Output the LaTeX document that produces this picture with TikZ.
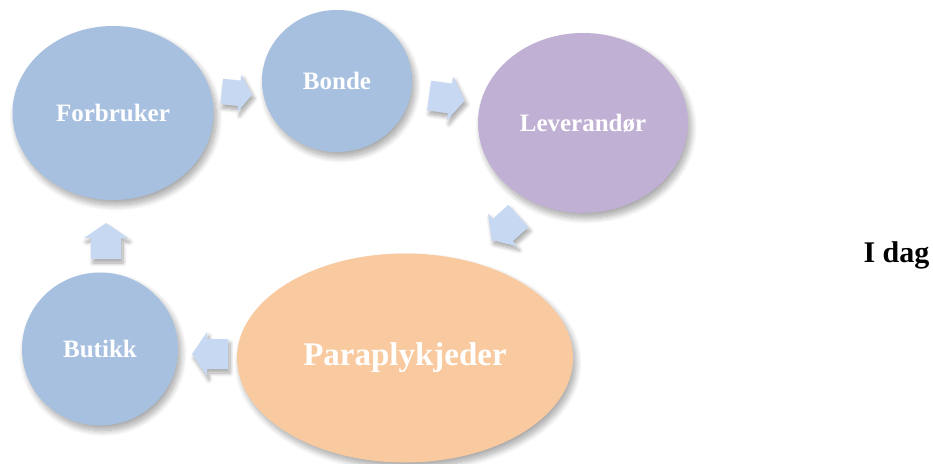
\documentclass[tikz,border=0pt]{standalone}
\usepackage{fontspec}
\setmainfont{Liberation Serif}
\usetikzlibrary{shapes.geometric,shadows.blur}
\definecolor{cycblue}{HTML}{A7C0DF}
\definecolor{cycpurple}{HTML}{C0B0D3}
\definecolor{cycorange}{HTML}{F9CAA0}
\definecolor{arrowblue}{HTML}{C7D9F2}
\tikzset{
  softshadow/.style={blur shadow={shadow xshift=3pt, shadow yshift=-5pt,
      shadow blur radius=6pt, shadow blur steps=12, shadow opacity=35}},
  stage/.style={ellipse, inner sep=0pt, draw=none, softshadow,
      text=white, font=\bfseries\fontsize{25}{30}\selectfont},
  flowarrow/.style={fill=arrowblue, draw=none,
      blur shadow={shadow xshift=2pt, shadow yshift=-4pt,
      shadow blur radius=4pt, shadow blur steps=8, shadow opacity=35}},
  % block arrow pointing along +x, centred on the pic origin
  blockarrow/.pic={
    \path[flowarrow] (-18,-15) -- (3,-15) -- (3,-22) -- (18,0)
        -- (3,22) -- (3,15) -- (-18,15) -- cycle;
  }
}
\begin{document}
\begin{tikzpicture}[x=1pt,y=-1pt]
\useasboundingbox (0,0) rectangle (933,463);

% the five stages of the chain
\node[stage, fill=cycblue, minimum width=201, minimum height=174] (forbruker) at (113,113) {Forbruker};
\node[stage, fill=cycblue, minimum width=150, minimum height=142] (bonde) at (337,81) {Bonde};
\node[stage, fill=cycpurple, minimum width=210, minimum height=180] (leverandor) at (583,123) {Leverandør};
\node[stage, fill=cycorange, minimum width=336, minimum height=209,
      font=\bfseries\fontsize{33}{40}\selectfont] (paraply) at (405,358) {Paraplykjeder};
\node[stage, fill=cycblue, minimum width=156, minimum height=153] (butikk) at (100,349) {Butikk};

% block arrows between the stages
\pic[scale=0.85, rotate=-6] at (237,93) {blockarrow};
\pic[rotate=-8] at (447,98) {blockarrow};
\pic[rotate=222] at (505,228) {blockarrow};
\pic[rotate=180] at (210,354) {blockarrow};
\pic[rotate=90] at (106,241) {blockarrow};

\node[font=\bfseries\fontsize{30}{36}\selectfont, anchor=base west] (idag) at (860,262) {I dag};
\end{tikzpicture}
\end{document}
